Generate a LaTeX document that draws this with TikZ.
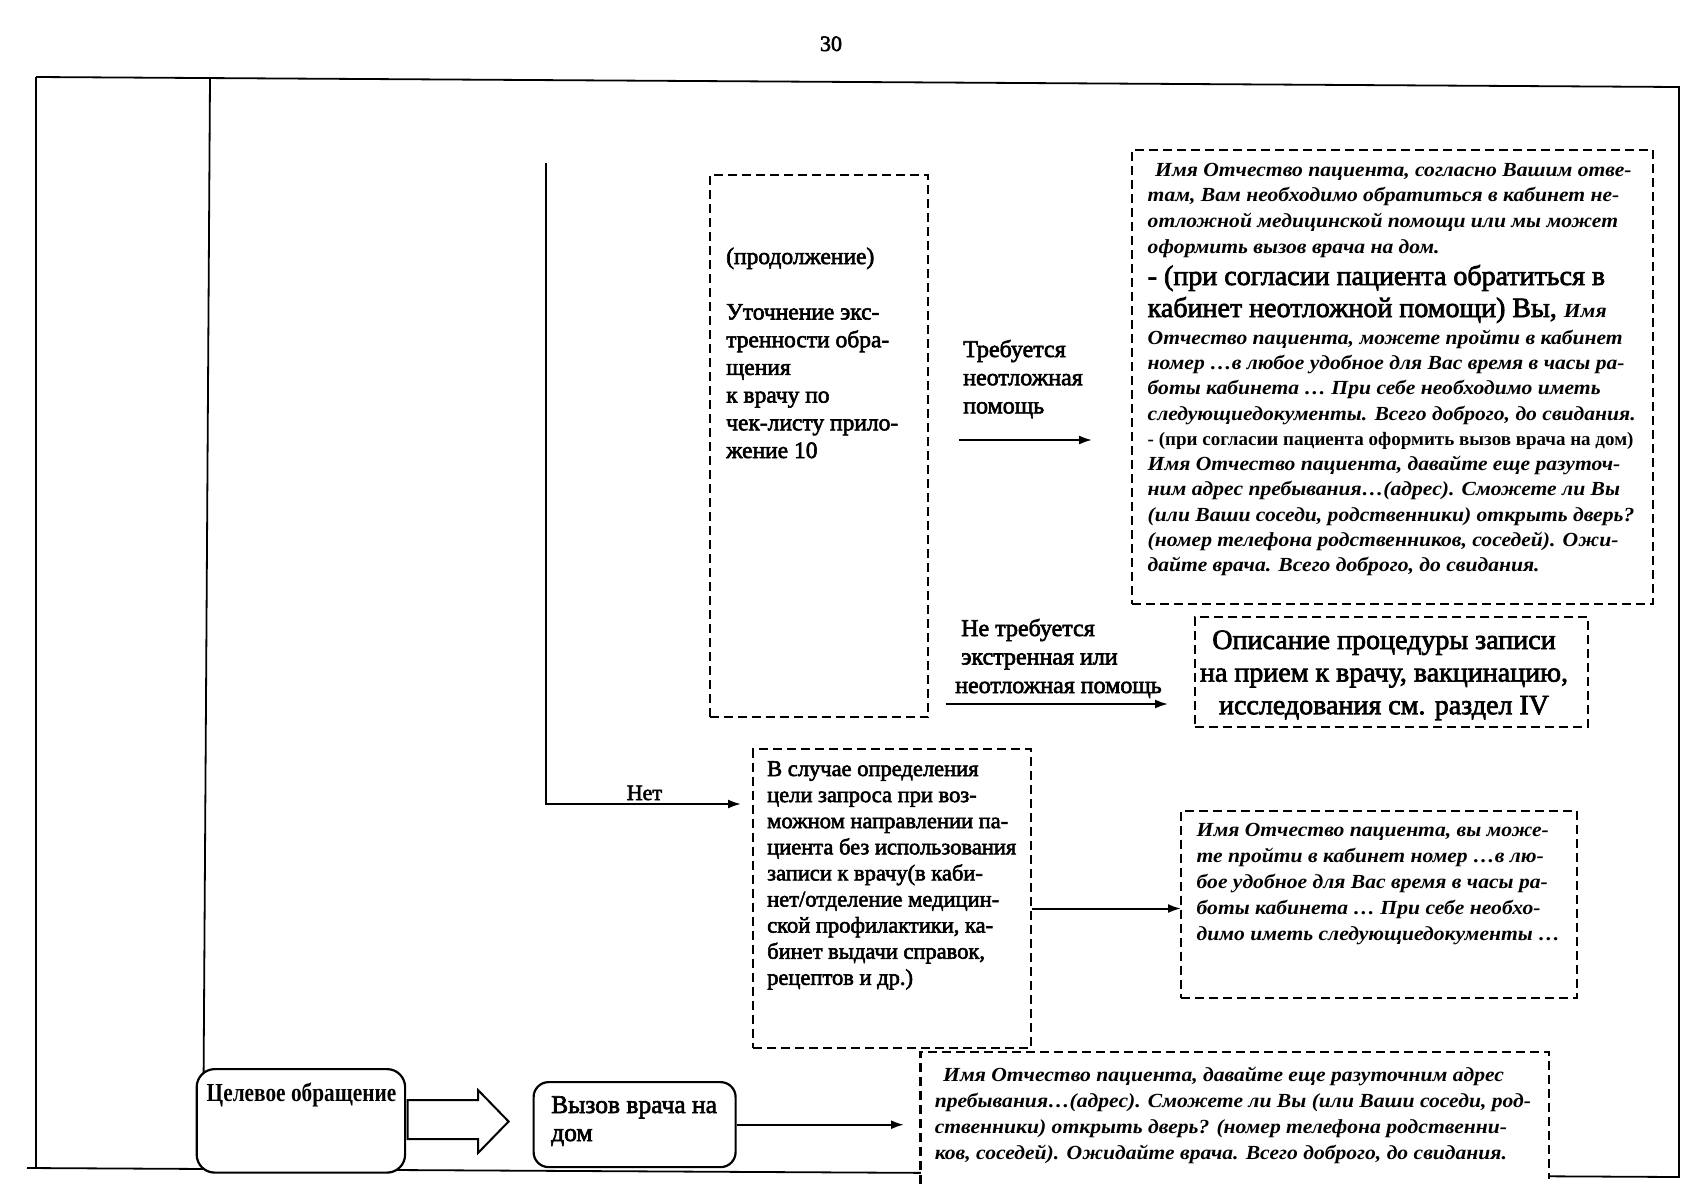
\documentclass[tikz,border=0pt]{standalone}
\usepackage{fontspec}
\setmainfont{Liberation Serif}
\newfontfamily\thk[FakeBold=2.5]{Liberation Serif}
\newfontfamily\itf[FakeStretch=1.08]{Liberation Serif}
\newfontfamily\narf[FakeStretch=0.82]{Liberation Serif}
\usetikzlibrary{arrows.meta}
\begin{document}
\begin{tikzpicture}[x=1pt,y=-1pt,
  frameline/.style={line width=1.8pt},
  dbox/.style={draw, line width=2.2pt, dash pattern=on 9pt off 5pt, fill=white, inner sep=0pt, anchor=north west},
  dline/.style={line width=2.2pt, dash pattern=on 9pt off 5pt},
  rbox/.style={draw, line width=2.2pt, rounded corners=18pt, fill=white, inner sep=0pt, anchor=north west},
  arr/.style={line width=2pt, -{Latex[length=13pt,width=9pt]}},
  tl/.style={anchor=base west, inner sep=0pt},
  tc/.style={anchor=base, inner sep=0pt},
  itx/.style={tl, font=\itf\bfseries\itshape\fontsize{20}{24}\selectfont},
  rmx/.style={tl, font=\thk\fontsize{23.5}{28}\selectfont},
  lbx/.style={tl, font=\thk\fontsize{24}{28}\selectfont},
  bigrm/.style={tl, font=\thk\fontsize{28}{32}\selectfont},
  slx/.style={tl, font=\thk\fontsize{22.5}{26}\selectfont},
]
\useasboundingbox (0,0) rectangle (1704,1200);
\fill[white] (0,0) rectangle (1704,1200);

% page number
\node[tc, font=\thk\fontsize{22}{24}\selectfont] (pagenum) at (831,51) {30};

% frame
\coordinate (ftl) at (36,77);
\coordinate (ftr) at (1679,87);
\coordinate (fbl) at (27,1168);
\coordinate (fbr) at (1679,1177);
\draw[frameline] (ftl) -- (ftr) -- (fbr) -- (fbl);
\draw[frameline] (ftl) -- (36,1168);
\coordinate (itop) at (210,78);
\coordinate (ibot) at (203,1168);
\draw[frameline] (itop) -- (ibot);

% boxes
\node[dbox, minimum width=218.5pt, minimum height=542pt] (prod) at (708.5,174) {};
\node[dbox, minimum width=521pt, minimum height=454pt] (big) at (1131,149) {};
\node[dbox, minimum width=393pt, minimum height=110pt] (opis) at (1194,616) {};
\node[dbox, minimum width=278pt, minimum height=298.5pt] (sluch) at (752,748) {};
\node[dbox, minimum width=396pt, minimum height=187pt] (vymo) at (1180,809.6) {};
\node[fill=white, inner sep=0pt, anchor=north west, minimum width=628pt, minimum height=132pt] (botbox) at (920.5,1052) {};
\draw[dline] (botbox.south west) -- (botbox.north west) -- (botbox.north east) -- ([yshift=5pt]botbox.south east);

\node[rbox, minimum width=208.4pt, minimum height=103.5pt] (celev) at (195.6,1068) {};
\node[rbox, rounded corners=15pt, minimum width=202pt, minimum height=85pt] (vyzov) at (532.5,1081) {};

% block arrow
\draw[line width=2pt, fill=white] (407.5,1100) -- (478,1100) -- (478,1090) -- (508.6,1121.5) -- (478,1153) -- (478,1139) -- (407.5,1139) -- cycle;

% connectors
\coordinate (nettop) at (545.5,163);
\coordinate (netend) at (741,804);
\draw[arr] (nettop) |- (netend);
\node[tc, font=\thk\fontsize{22}{26}\selectfont] (netlbl) at (644.4,800) {Нет};

\coordinate (a1s) at (958.5,440);
\coordinate (a1e) at (1092,440);
\draw[arr] (a1s) -- (a1e);
\coordinate (a2s) at (945.5,704);
\coordinate (a2e) at (1168,704);
\draw[arr] (a2s) -- (a2e);
\coordinate (a3e) at (1181,908.5);
\draw[arr] (sluch.east |- a3e) -- (a3e);
\coordinate (a4e) at (904,1124.7);
\draw[arr] (vyzov.east |- a4e) -- (a4e);

% text: continuation box
\node[rmx] (p0) at (726,264) {(продолжение)};
\foreach \t [count=\i] in {{Уточнение экс-},{тренности обра-},{щения},{к врачу по},{чек-листу прило-},{жение 10}}
  \node[rmx] (p\i) at (726,{319.5+27.7*(\i-1)}) {\t};

% labels
\foreach \t [count=\i] in {{Требуется},{неотложная},{помощь}}
  \node[lbx] (tr\i) at (963,{357+28.2*(\i-1)}) {\t};
\node[lbx] (nt1) at (961,636) {Не требуется};
\node[lbx] (nt2) at (961,664.5) {экстренная или};
\node[lbx] (nt3) at (955,693) {неотложная помощь};

% big box text
\node[itx] (b1) at (1155,176) {Имя Отчество пациента, согласно Вашим отве-};
\node[itx] (b2) at (1147.5,201) {там, Вам необходимо обратиться в кабинет не-};
\node[itx] (b3) at (1147.5,227) {отложной медицинской помощи или мы может};
\node[itx] (b4) at (1147.5,253) {оформить вызов врача на дом.};
\node[bigrm] (b5) at (1147.5,285) {- (при согласии пациента обратиться в};
\node[bigrm] (b6) at (1147.5,317) {кабинет неотложной помощи) Вы, {\itf\bfseries\itshape\fontsize{20}{24}\selectfont Имя}};
\node[itx] (b7) at (1147.5,344) {Отчество пациента, можете пройти в кабинет};
\node[itx] (b8) at (1147.5,369) {номер …в любое удобное для Вас время в часы ра-};
\node[itx] (b9) at (1147.5,394) {боты кабинета … При себе необходимо иметь};
\node[itx] (b10) at (1147.5,420) {следующиедокументы. Всего доброго, до свидания.};
\node[tl, font=\bfseries\fontsize{19}{22}\selectfont] (b11) at (1147.5,445) {- (при согласии пациента оформить вызов врача на дом)};
\node[itx] (b12) at (1147.5,470) {Имя Отчество пациента, давайте еще разуточ-};
\node[itx] (b13) at (1147.5,495) {ним адрес пребывания…(адрес). Сможете ли Вы};
\node[itx] (b14) at (1147.5,521) {(или Ваши соседи, родственники) открыть дверь?};
\node[itx] (b15) at (1147.5,546) {(номер телефона родственников, соседей). Ожи-};
\node[itx] (b16) at (1147.5,571) {дайте врача. Всего доброго, до свидания.};

% description box
\foreach \t [count=\i] in {{Описание процедуры записи},{на прием к врачу, вакцинацию,},{исследования см. раздел IV}}
  \node[tc, font=\thk\fontsize{28}{32}\selectfont] (o\i) at (1384,{649+32.6*(\i-1)}) {\t};

% case box
\foreach \t [count=\i] in {{В случае определения},{цели запроса при воз-},{можном направлении па-},{циента без использования},{записи к врачу(в каби-},{нет/отделение медицин-},{ской профилактики, ка-},{бинет выдачи справок,},{рецептов и др.)}}
  \node[slx] (s\i) at (767,{776+26.1*(\i-1)}) {\t};

% italic box right
\foreach \t [count=\i] in {{Имя Отчество пациента, вы може-},{те пройти в кабинет номер …в лю-},{бое удобное для Вас время в часы ра-},{боты кабинета … При себе необхо-},{димо иметь следующиедокументы …}}
  \node[itx] (v\i) at (1196.5,{836.5+26.1*(\i-1)}) {\t};

% bottom box
\node[itx] (d1) at (943,1081) {Имя Отчество пациента, давайте еще разуточним адрес};
\node[itx] (d2) at (934.6,1107) {пребывания…(адрес). Сможете ли Вы (или Ваши соседи, род-};
\node[itx] (d3) at (934.6,1133) {ственники) открыть дверь? (номер телефона родственни-};
\node[itx] (d4) at (934.6,1159) {ков, соседей). Ожидайте врача. Всего доброго, до свидания.};

% rounded boxes text
\node[tl, font=\narf\bfseries\fontsize{26}{30}\selectfont] (celt) at (206.5,1101) {Целевое обращение};
\node[tl, font=\thk\fontsize{25.5}{30}\selectfont] (vz1) at (551,1113) {Вызов врача на};
\node[tl, font=\thk\fontsize{25.5}{30}\selectfont] (vz2) at (551,1141) {дом};
\end{tikzpicture}
\end{document}
